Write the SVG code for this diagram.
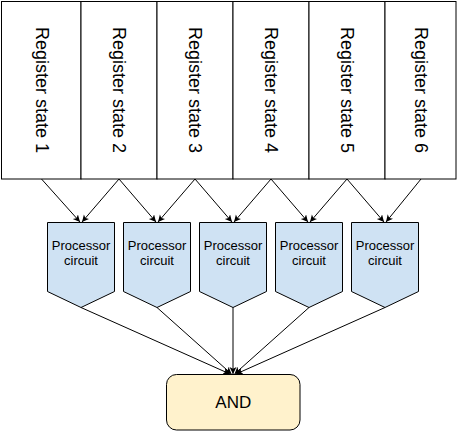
<svg xmlns="http://www.w3.org/2000/svg" width="458" height="444" viewBox="0 0 458 444">
<style>
.reg{fill:#fff;stroke:#000;stroke-width:1}
.rt{font-family:"Liberation Sans",Arial,sans-serif;font-size:18px;fill:#000;text-anchor:middle;dominant-baseline:central}
.proc{fill:#cfe2f3;stroke:#000;stroke-width:1}
.pt{font-family:"Liberation Sans",Arial,sans-serif;font-size:13px;fill:#000;text-anchor:middle}
.and{fill:#fff2cc;stroke:#000;stroke-width:1}
.at{font-family:"Liberation Sans",Arial,sans-serif;font-size:17px;fill:#000;text-anchor:middle;dominant-baseline:central}
.c{stroke:#000;stroke-width:1;fill:none;marker-end:url(#ah)}
</style>
<defs>
<marker id="ah" markerUnits="userSpaceOnUse" markerWidth="8" markerHeight="8" refX="7" refY="3.5" orient="auto">
<path d="M0,0 L7,3.5 L0,7 L1.8,3.5 z" fill="#000"/>
</marker>
</defs>
<rect width="458" height="444" fill="#fff"/>
<g id="reg1"><rect class="reg" x="1.5" y="1.5" width="79.5" height="177.5"/><text class="rt" transform="translate(41.5,90) rotate(90)">Register state 1</text></g>
<g id="reg2"><rect class="reg" x="81" y="1.5" width="76" height="177.5"/><text class="rt" transform="translate(119,90) rotate(90)">Register state 2</text></g>
<g id="reg3"><rect class="reg" x="157" y="1.5" width="76" height="177.5"/><text class="rt" transform="translate(195,90) rotate(90)">Register state 3</text></g>
<g id="reg4"><rect class="reg" x="233" y="1.5" width="76" height="177.5"/><text class="rt" transform="translate(271,90) rotate(90)">Register state 4</text></g>
<g id="reg5"><rect class="reg" x="309" y="1.5" width="76" height="177.5"/><text class="rt" transform="translate(347,90) rotate(90)">Register state 5</text></g>
<g id="reg6"><rect class="reg" x="385" y="1.5" width="71" height="177.5"/><text class="rt" transform="translate(421,90) rotate(90)">Register state 6</text></g>
<g id="proc1"><polygon class="proc" points="47.5,222.5 114.5,222.5 114.5,291.5 81,307.5 47.5,291.5"/><text class="pt" x="81" y="250">Processor</text><text class="pt" x="81" y="265">circuit</text></g>
<g id="proc2"><polygon class="proc" points="123.5,222.5 190.5,222.5 190.5,291.5 157,307.5 123.5,291.5"/><text class="pt" x="157" y="250">Processor</text><text class="pt" x="157" y="265">circuit</text></g>
<g id="proc3"><polygon class="proc" points="199.5,222.5 266.5,222.5 266.5,291.5 233,307.5 199.5,291.5"/><text class="pt" x="233" y="250">Processor</text><text class="pt" x="233" y="265">circuit</text></g>
<g id="proc4"><polygon class="proc" points="275.5,222.5 342.5,222.5 342.5,291.5 309,307.5 275.5,291.5"/><text class="pt" x="309" y="250">Processor</text><text class="pt" x="309" y="265">circuit</text></g>
<g id="proc5"><polygon class="proc" points="351.5,222.5 418.5,222.5 418.5,291.5 385,307.5 351.5,291.5"/><text class="pt" x="385" y="250">Processor</text><text class="pt" x="385" y="265">circuit</text></g>
<g id="and"><rect class="and" x="166.5" y="374.5" width="133.5" height="55.5" rx="10" ry="10"/><text class="at" x="233.3" y="402">AND</text></g>
<g id="connectors">
<line class="c" x1="41.5" y1="179" x2="80" y2="222"/>
<line class="c" x1="119" y1="179" x2="82" y2="222"/>
<line class="c" x1="119" y1="179" x2="156" y2="222"/>
<line class="c" x1="195" y1="179" x2="158" y2="222"/>
<line class="c" x1="195" y1="179" x2="232" y2="222"/>
<line class="c" x1="271" y1="179" x2="234" y2="222"/>
<line class="c" x1="271" y1="179" x2="308" y2="222"/>
<line class="c" x1="347" y1="179" x2="310" y2="222"/>
<line class="c" x1="347" y1="179" x2="384" y2="222"/>
<line class="c" x1="421" y1="179" x2="386" y2="222"/>
<line class="c" x1="81" y1="307.5" x2="230" y2="374"/>
<line class="c" x1="157" y1="307.5" x2="231.5" y2="374"/>
<line class="c" x1="233" y1="307.5" x2="233" y2="374"/>
<line class="c" x1="309" y1="307.5" x2="234.5" y2="374"/>
<line class="c" x1="385" y1="307.5" x2="236" y2="374"/>
</g>
</svg>
